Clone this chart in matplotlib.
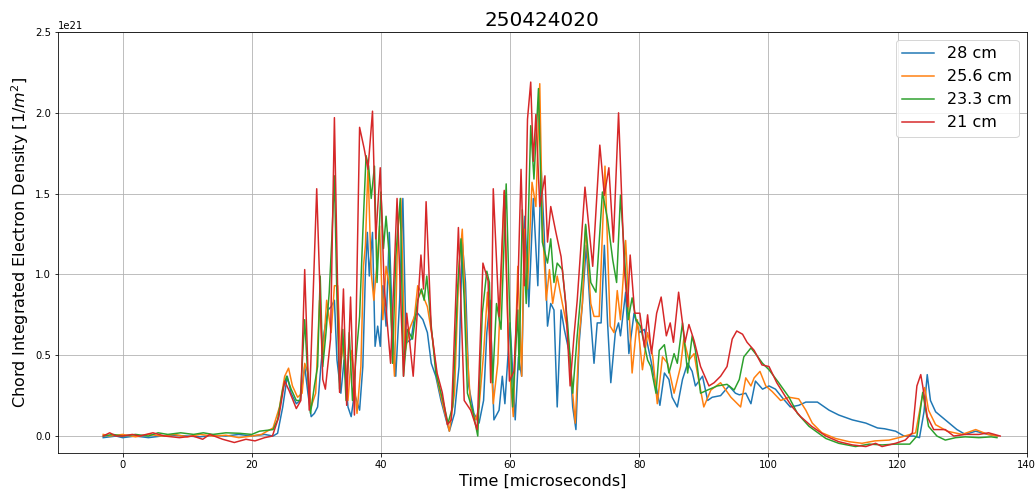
import matplotlib
matplotlib.use('Agg')
import matplotlib.pyplot as plt
import numpy as np

# values, in units of 1e21 m^-2, time in microseconds
t_21 = [-3.0, -2.0, -1.0, 0.0, 1.5, 2.6, 4.7, 6.5, 8.8, 10.9, 12.4, 13.5, 15.5, 17.3, 19.1, 20.5, 22.0,
        23.2, 24.2, 25.1, 25.8, 26.9, 27.6, 28.2, 28.9, 30.06, 31.0, 31.4, 32.2, 32.8, 33.6, 34.2, 34.7,
        35.3, 35.9, 36.7, 37.4, 38.0, 38.7, 39.2, 39.9, 40.5, 41.5, 42.5, 43.5, 44.0, 45.0, 46.2, 46.6,
        47.0, 47.8, 48.7, 49.5, 50.3, 50.9, 52.0, 52.9, 53.9, 54.9, 55.8, 56.6, 57.0, 57.4, 58.3, 59.1,
        59.9, 60.6, 61.2, 61.7, 62.2, 62.7, 63.2, 63.6, 64.0, 64.6, 65.4, 65.8, 66.3, 67.1, 67.9, 68.6,
        69.3, 69.9, 70.4, 71.6, 72.8, 73.9, 74.6, 75.3, 76.0, 76.8, 77.7, 78.2, 78.6, 79.3, 80.1, 80.8,
        81.3, 81.9, 82.7, 83.4, 84.2, 84.8, 85.3, 86.1, 86.7, 87.1, 87.7, 88.5, 89.5, 90.8, 91.6, 92.6,
        93.6, 94.4, 95.1, 96.0, 96.7, 97.8, 99.0, 100.1, 101.3, 102.7, 103.7, 105.0, 106.7, 108.9, 110.9,
        113.0, 115.1, 116.6, 117.6, 119.7, 121.2, 122.3, 123.0, 123.6, 123.9, 124.6, 125.6, 127.4, 128.7,
        130.5, 132.6, 134.1, 135.9]
v_21 = [0.00, 0.02, 0.00, 0.00, 0.01, 0.00, 0.02, 0.00, -0.01, 0.00, -0.02, 0.01, -0.02, -0.04, -0.02, -0.03, -0.01,
        0.00, 0.12, 0.34, 0.28, 0.17, 0.22, 1.03, 0.16, 1.53, 0.35, 0.29, 0.60, 1.97, 0.27, 0.91, 0.19,
        0.86, 0.13, 1.91, 1.78, 1.65, 2.01, 1.22, 1.66, 0.93, 0.45, 1.47, 0.37, 0.76, 0.37, 1.12, 0.91,
        1.45, 0.66, 0.39, 0.27, 0.07, 0.10, 1.29, 0.22, 0.16, 0.04, 1.07, 0.96, 0.33, 1.53, 0.74, 1.52,
        0.34, 0.40, 0.90, 1.65, 0.93, 1.96, 2.19, 1.70, 1.99, 1.42, 1.61, 1.20, 1.42, 1.26, 1.11, 0.83,
        0.31, 0.62, 0.84, 1.54, 1.05, 1.80, 1.49, 1.66, 1.20, 2.00, 1.03, 0.80, 1.12, 0.76, 0.76, 0.55,
        0.75, 0.51, 0.76, 0.86, 0.62, 0.70, 0.58, 0.89, 0.70, 0.58, 0.69, 0.59, 0.43, 0.31, 0.33, 0.37,
        0.43, 0.60, 0.65, 0.63, 0.58, 0.53, 0.44, 0.43, 0.33, 0.24, 0.18, 0.12, 0.06, 0.00, -0.035,
        -0.055, -0.065, -0.045, -0.065, -0.045, -0.025, 0.02, 0.31, 0.38, 0.31, 0.12, 0.04, 0.04, 0.00,
        0.01, 0.01, 0.02, 0.00]

t_233 = [-3.0, -1.5, 0.0, 2.0, 4.0, 5.5, 7.0, 9.0, 11.0, 12.5, 14.0, 16.0, 18.1, 20.0, 21.2, 23.3, 24.0,
         24.8, 25.4, 26.1, 26.9, 27.5, 28.2, 28.7, 29.1, 29.7, 30.2, 30.6, 31.0, 31.5, 32.0, 32.4, 32.8,
         33.2, 33.6, 34.1, 34.6, 35.1, 35.6, 36.2, 36.7, 37.2, 37.7, 38.1, 38.5, 39.0, 39.4, 40.0, 40.4,
         40.8, 41.3, 41.8, 42.3, 43.0, 43.5, 44.1, 44.9, 45.7, 46.3, 46.7, 47.1, 47.8, 48.5, 49.6, 50.4,
         51.1, 51.9, 52.4, 52.9, 53.4, 54.2, 55.0, 55.7, 56.4, 56.8, 57.3, 57.9, 58.6, 59.4, 59.9, 60.4,
         61.2, 61.4, 61.9, 62.5, 63.2, 63.7, 64.4, 65.0, 65.8, 66.3, 66.8, 67.3, 68.1, 68.9, 69.7, 70.4,
         71.2, 71.7, 72.5, 73.3, 74.3, 75.1, 75.9, 76.5, 77.1, 77.7, 78.3, 78.9, 79.5, 80.2, 81.3, 81.8,
         82.6, 83.1, 83.9, 84.6, 85.4, 85.9, 86.7, 87.5, 88.2, 88.7, 89.5, 90.6, 92.1, 93.6, 94.7, 95.5,
         96.2, 97.3, 98.0, 99.1, 100.1, 101.6, 103.2, 104.5, 106.3, 108.9, 110.9, 113.5, 115.6, 117.6,
         119.7, 121.9, 123.0, 123.9, 124.8, 126.1, 127.4, 129.0, 130.5, 132.6, 134.5, 135.4]
v_233 = [0.00, 0.01, 0.00, 0.01, 0.00, 0.02, 0.01, 0.02, 0.01, 0.02, 0.01, 0.02, 0.017, 0.01, 0.03, 0.04, 0.10,
         0.29, 0.37, 0.29, 0.22, 0.22, 0.72, 0.35, 0.14, 0.31, 0.43, 0.99, 0.43, 0.64, 0.89, 1.22, 1.61,
         0.84, 0.29, 0.66, 0.22, 0.64, 0.22, 0.51, 0.74, 1.26, 1.735, 1.67, 1.47, 1.67, 0.95, 1.51, 1.16,
         1.36, 1.11, 0.45, 1.11, 1.47, 0.37, 0.66, 0.60, 0.84, 0.91, 0.84, 0.99, 0.68, 0.39, 0.22, 0.08,
         0.18, 0.93, 1.22, 0.84, 0.265, 0.16, 0.00, 0.76, 1.02, 0.95, 0.33, 0.82, 0.66, 1.56, 0.82, 0.18,
         0.78, 0.41, 1.40, 0.82, 1.92, 1.59, 2.15, 1.20, 1.07, 1.22, 0.95, 1.07, 1.03, 0.70, 0.265, 0.62,
         0.99, 1.31, 0.95, 0.89, 1.51, 1.34, 1.09, 0.95, 1.49, 1.13, 0.72, 0.855, 0.72, 0.68, 0.47, 0.43,
         0.265, 0.53, 0.565, 0.39, 0.51, 0.45, 0.70, 0.39, 0.62, 0.53, 0.265, 0.285, 0.31, 0.32, 0.285, 0.35,
         0.49, 0.545, 0.51, 0.45, 0.41, 0.33, 0.24, 0.14, 0.06, -0.015, -0.045, -0.065, -0.05, -0.055,
         -0.05, -0.05, 0.00, 0.27, 0.06, 0.00, -0.025, -0.01, -0.005, -0.01, -0.005, -0.01]

t_256 = [-3.0, -2.0, 0.0, 2.0, 4.0, 6.0, 8.0, 10.0, 12.0, 14.0, 16.0, 18.0, 20.0, 21.5, 23.3, 24.3, 25.1,
         25.7, 26.3, 27.1, 27.8, 28.2, 28.7, 29.2, 29.9, 30.5, 31.0, 31.6, 32.3, 32.8, 33.3, 33.8, 34.3,
         34.9, 35.5, 36.3, 36.9, 37.3, 37.6, 38.0, 38.5, 38.9, 39.4, 39.8, 40.3, 40.8, 41.3, 42.1, 42.6,
         43.1, 43.7, 44.4, 45.2, 45.7, 46.5, 47.2, 48.0, 48.8, 49.8, 50.6, 51.4, 52.1, 52.6, 53.3, 53.9,
         54.7, 55.2, 55.9, 56.5, 57.0, 57.4, 58.1, 58.6, 59.1, 59.8, 60.5, 61.2, 61.8, 62.2, 62.7, 63.4,
         64.0, 64.6, 65.0, 65.6, 66.1, 66.6, 67.3, 68.1, 68.9, 69.7, 70.1, 70.7, 71.2, 71.7, 72.5, 73.0,
         73.8, 74.7, 75.5, 76.1, 76.6, 77.1, 77.9, 78.4, 78.9, 79.7, 80.5, 81.3, 82.1, 82.8, 83.6, 84.4,
         85.4, 86.4, 86.9, 87.7, 88.5, 89.0, 90.0, 91.1, 92.6, 94.2, 95.7, 96.5, 97.3, 97.8, 98.7, 99.6,
         100.6, 101.9, 103.2, 104.7, 105.8, 106.8, 108.3, 110.4, 112.5, 114.5, 116.5, 118.7, 120.7, 122.8,
         123.8, 124.2, 124.8, 125.9, 127.7, 130.0, 132.1, 134.0, 135.5]
v_256 = [0.01, 0.00, 0.01, -0.005, 0.01, 0.00, 0.01, -0.005, 0.01, 0.00, 0.005, -0.01, 0.00, 0.01, 0.05, 0.18, 0.37,
         0.42, 0.31, 0.24, 0.265, 0.45, 0.39, 0.18, 0.265, 0.84, 0.47, 0.84, 0.64, 0.93, 0.93, 0.45, 0.60,
         0.22, 0.53, 0.14, 0.43, 1.05, 1.18, 1.67, 1.01, 0.84, 1.07, 1.30, 0.72, 1.05, 0.93, 0.37, 1.26,
         1.47, 0.51, 0.66, 0.74, 0.93, 0.87, 0.80, 0.60, 0.33, 0.16, 0.03, 0.265, 1.05, 1.28, 0.575, 0.18,
         0.10, 0.18, 0.51, 0.89, 0.51, 0.20, 0.45, 0.95, 1.51, 0.47, 0.12, 1.05, 0.37, 1.28, 0.91, 1.57,
         1.42, 2.18, 1.32, 0.84, 1.03, 0.82, 0.99, 0.82, 0.66, 0.265, 0.08, 0.62, 0.82, 1.30, 0.82, 0.74,
         0.74, 1.67, 0.68, 0.64, 0.90, 0.72, 1.21, 0.80, 0.39, 0.72, 0.41, 0.64, 0.49, 0.20, 0.49, 0.45,
         0.265, 0.43, 0.60, 0.47, 0.51, 0.39, 0.18, 0.285, 0.33, 0.24, 0.18, 0.36, 0.31, 0.36, 0.40, 0.31,
         0.275, 0.22, 0.24, 0.23, 0.16, 0.08, 0.02, -0.015, -0.035, -0.045, -0.03, -0.025, -0.005, 0.02,
         0.24, 0.30, 0.16, 0.07, 0.03, 0.01, 0.04, 0.01, 0.00]

t_28 = [-3.0, -1.0, 0.0, 2.0, 4.0, 6.0, 8.0, 10.0, 12.0, 14.0, 16.0, 18.0, 20.0, 22.0, 23.3, 24.0, 24.8,
        25.5, 26.1, 26.9, 27.5, 28.2, 28.7, 29.2, 29.7, 30.2, 30.7, 31.2, 31.8, 32.3, 32.8, 33.2, 33.8,
        34.3, 34.9, 35.4, 35.9, 36.7, 37.2, 37.6, 37.9, 38.2, 38.7, 39.1, 39.5, 39.9, 40.3, 40.8, 41.3,
        41.8, 42.3, 42.9, 43.4, 43.9, 44.7, 45.2, 45.7, 46.5, 47.2, 47.8, 48.5, 49.3, 50.1, 50.6, 51.4,
        52.1, 52.6, 53.1, 53.6, 54.4, 55.2, 55.9, 56.4, 56.9, 57.5, 58.3, 58.8, 59.2, 60.0, 60.8, 61.3,
        61.8, 62.3, 62.9, 63.6, 64.3, 64.8, 65.3, 65.8, 66.3, 66.8, 67.3, 67.9, 68.4, 69.2, 69.7, 70.2,
        70.7, 71.2, 71.8, 72.5, 73.0, 73.5, 74.1, 74.6, 75.1, 75.6, 76.3, 76.8, 77.1, 77.9, 78.4, 79.2,
        80.0, 80.8, 81.8, 82.6, 83.2, 83.9, 84.6, 85.1, 85.9, 86.7, 87.5, 88.2, 88.7, 89.8, 90.6, 91.3,
        92.6, 93.9, 94.9, 95.5, 96.5, 97.3, 98.0, 99.1, 100.1, 101.1, 102.1, 103.4, 104.7, 105.8, 107.6,
        109.4, 110.9, 113.0, 115.1, 116.9, 118.0, 119.7, 121.0, 122.5, 123.4, 124.1, 124.6, 125.1, 125.9,
        127.4, 129.2, 130.5, 132.1, 134.0, 135.5]
v_28 = [-0.01, 0.00, -0.01, 0.00, -0.01, 0.00, 0.005, 0.00, -0.005, 0.005, 0.00, 0.01, 0.00, 0.01, 0.00, 0.017, 0.18,
        0.37, 0.265, 0.20, 0.22, 0.43, 0.265, 0.12, 0.14, 0.18, 0.43, 0.64, 0.78, 0.80, 0.84, 0.47, 0.265,
        0.47, 0.18, 0.12, 0.265, 0.16, 0.43, 1.01, 1.26, 0.99, 1.26, 0.555, 0.68, 0.555, 0.93, 0.68, 1.26,
        0.66, 0.37, 0.84, 1.47, 0.575, 0.60, 0.74, 0.76, 0.72, 0.64, 0.45, 0.37, 0.22, 0.10, 0.03, 0.14,
        0.43, 1.20, 0.95, 0.31, 0.14, 0.08, 0.22, 0.64, 0.84, 0.10, 0.16, 0.37, 0.20, 0.70, 0.10, 0.49,
        0.37, 1.36, 0.80, 1.47, 0.93, 1.67, 1.24, 0.68, 0.82, 0.78, 0.18, 0.78, 0.66, 0.51, 0.18, 0.04,
        0.575, 0.82, 1.18, 0.72, 0.45, 0.70, 0.70, 1.18, 0.70, 0.33, 0.64, 0.70, 0.62, 0.89, 0.51, 0.76,
        0.64, 0.66, 0.47, 0.31, 0.19, 0.39, 0.35, 0.24, 0.18, 0.35, 0.45, 0.40, 0.31, 0.37, 0.22, 0.24,
        0.25, 0.31, 0.265, 0.255, 0.265, 0.20, 0.34, 0.29, 0.31, 0.29, 0.24, 0.18, 0.19, 0.21, 0.21,
        0.16, 0.13, 0.10, 0.08, 0.05, 0.045, 0.03, 0.00, 0.00, -0.01, 0.15, 0.38, 0.22, 0.15,
        0.10, 0.04, 0.01, 0.03, 0.01, 0.00]

labels = ['28 cm', '25.6 cm', '23.3 cm', '21 cm']
shot = '250424020'

# notebook-style output at 72 dpi
fig = plt.figure(figsize=(1036 / 72, 489 / 72), dpi=72)
ax = fig.add_axes([0.056, 0.0736, 0.935, 0.861])

series = [(t_28, v_28), (t_256, v_256), (t_233, v_233), (t_21, v_21)]
for (t, v), lab in zip(series, labels):
    ax.plot(t, np.array(v) * 1e21, label=lab, linewidth=1.5)

ax.set_xlim(-10, 140)
ax.set_ylim(-0.105e21, 2.5e21)
ax.grid(True)
ax.set_title(shot, fontsize=20)
ax.set_xlabel('Time [microseconds]', fontsize=16)
ax.set_ylabel('Chord Integrated Electron Density [1/$m^2$]', fontsize=16)
ax.legend(loc='upper right', fontsize=16)

plt.savefig('out.png', dpi=72)
